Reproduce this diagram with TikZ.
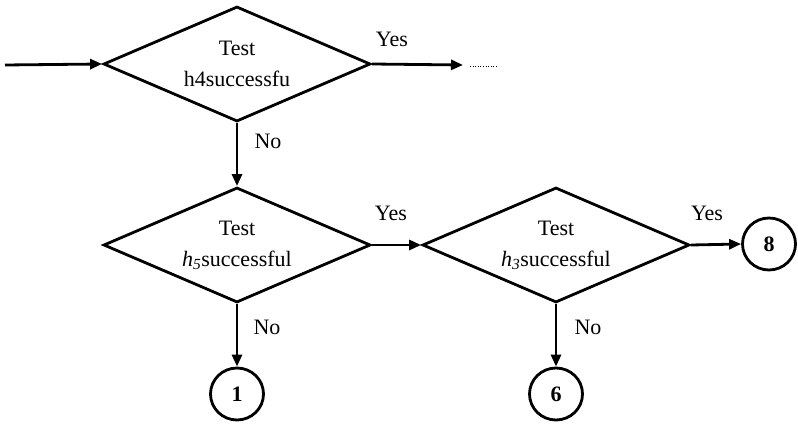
\documentclass[tikz,border=0pt]{standalone}
\usepackage{fontspec}
\setmainfont{Liberation Serif}
\usetikzlibrary{shapes.geometric,arrows.meta}
\begin{document}
\begin{tikzpicture}[x=1pt,y=-1pt,
  every node/.style={font=\fontsize{22}{31}\selectfont},
  dec/.style={shape=diamond,draw,line width=2.8pt,aspect=2.3,inner sep=0pt,align=center,
    minimum width=267pt,minimum height=115pt},
  term/.style={shape=ellipse,draw,line width=2.8pt,inner sep=0pt,minimum width=53pt,minimum height=52pt,font=\fontsize{22}{24}\selectfont\bfseries},
  arr/.style={line width=2.8pt,-{Triangle[length=12pt,width=10pt]}},
  lab/.style={inner sep=0pt}]
\useasboundingbox (0,0) rectangle (798,427);
\node[dec] (d1) at (237,64) {Test\\h4successfu};
\node[dec] (d2) at (237,245) {Test\\{\itshape h\textsubscript{5}}successful};
\node[dec] (d3) at (556,245) {Test\\{\itshape h\textsubscript{3}}successful};
\node[term] (c8) at (769,244) {8};
\node[term] (c1) at (237,394) {1};
\node[term] (c6) at (556,394) {6};
\coordinate (in) at (5,65);
\coordinate (out) at (463,65);
\coordinate (dotA) at (470,66);
\coordinate (dotB) at (498,66);
\draw[arr] (in) -- (d1.west);
\draw[arr] (d1.east) -- (out);
\draw[line width=0.6pt,dotted] (dotA) -- (dotB);
\draw[arr] (d1.south) -- (d2.north);
\draw[arr] (d2.east) -- (d3.west);
\draw[arr] (d3.east) -- (c8.west);
\draw[arr] (d2.south) -- (c1.north);
\draw[arr] (d3.south) -- (c6.north);
\node[lab] (y1) at (392,39) {Yes};
\node[lab] (n1) at (268,141) {No};
\node[lab] (y2) at (391,213) {Yes};
\node[lab] (y3) at (707,213) {Yes};
\node[lab] (n2) at (267,327) {No};
\node[lab] (n3) at (588,327) {No};
\end{tikzpicture}
\end{document}
